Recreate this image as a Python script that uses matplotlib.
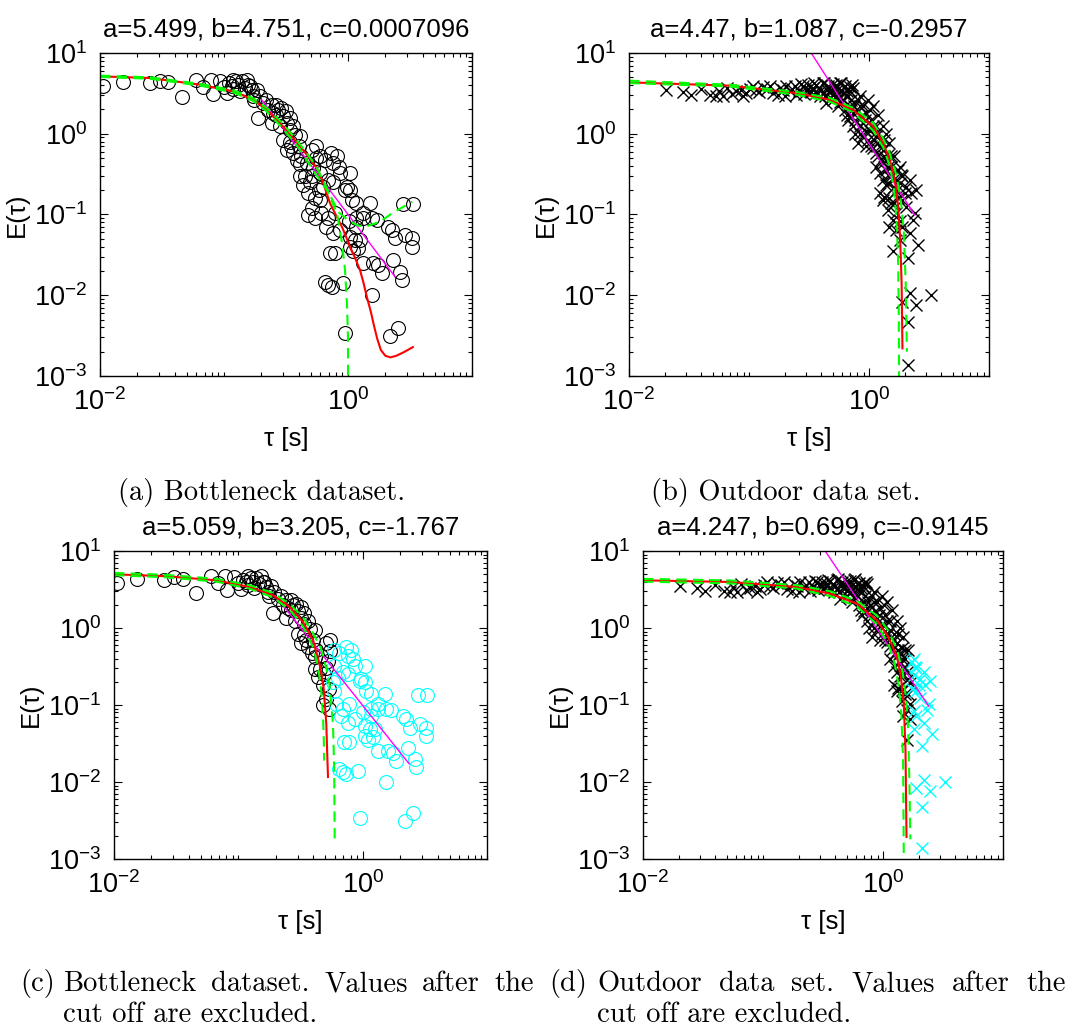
import numpy as np
import matplotlib.pyplot as plt
from matplotlib.ticker import LogLocator, NullFormatter

plt.rcParams['font.family'] = 'Liberation Sans'
plt.rcParams['mathtext.fontset'] = 'custom'
plt.rcParams['mathtext.rm'] = 'Liberation Sans'
plt.rcParams['mathtext.it'] = 'Liberation Sans:italic'

# bottleneck data (circles), same points in (a) and (c)
bn_tau = [0.0105, 0.0152, 0.0253, 0.0305, 0.0356, 0.0456, 0.060, 0.068, 0.078, 0.081,
          0.093, 0.100, 0.110, 0.119, 0.119, 0.130, 0.139, 0.147, 0.157, 0.167,
          0.172, 0.134, 0.105,
          0.189, 0.208, 0.228, 0.25, 0.274, 0.30, 0.242, 0.283, 0.32, 0.34,
          0.30, 0.32, 0.362, 0.41, 0.40, 0.42, 0.51, 0.465, 0.525, 0.45,
          0.49, 0.48, 0.54, 0.59, 0.65, 0.76, 0.69, 0.81, 0.86, 0.946,
          1.04, 0.76, 0.63, 0.58, 0.51, 0.48, 0.54, 0.61, 0.69, 0.78,
          0.67, 0.76, 0.86, 1.01, 1.04, 0.78, 0.71, 0.65, 0.74, 0.69,
          0.916, 0.946, 1.10, 1.21, 1.33, 1.55, 1.60, 1.76, 1.87, 2.32,
          2.62, 2.71, 2.18, 2.55, 1.17, 1.33, 1.55, 1.70, 1.17, 1.25,
          2.11, 2.25, 2.39, 2.88, 3.26, 3.26, 2.79, 3.32, 0.73, 0.84,
          0.975, 1.04, 1.07, 1.17, 1.5, 1.33, 0.59, 1.14, 1.04,
          0.22, 0.242, 0.264, 0.29, 0.264, 0.318, 0.34, 0.362, 0.375, 0.34,
          0.35, 0.39, 0.41, 0.41, 0.435, 0.55, 0.59, 0.55, 0.51,
          0.152, 0.162, 0.183, 0.176, 0.195, 0.126, 0.115]
bn_E = [3.86, 4.33, 4.24, 4.55, 4.33, 2.85, 4.67, 3.80, 4.67, 3.10,
        4.55, 3.80, 4.24, 4.67, 3.60, 4.00, 4.45, 3.70, 4.00, 3.45,
        2.90, 3.35, 3.19,
        1.56, 2.40, 1.99, 1.80, 1.99, 1.64, 1.36, 1.23, 1.36, 1.12,
        0.84, 0.63, 0.575, 0.93, 0.70, 0.525, 0.63, 0.43, 0.375, 0.296,
        0.256, 0.184, 0.159, 0.325, 0.476, 0.43, 0.27, 0.525, 0.325, 0.202,
        0.325, 0.256, 0.222, 0.20, 0.12, 0.099, 0.090, 0.104, 0.090, 0.104,
        0.071, 0.059, 0.065, 0.082, 0.053, 0.033, 0.033, 0.0148, 0.0128, 0.0134,
        0.014, 0.0034, 0.035, 0.038, 0.025, 0.0101, 0.025, 0.024, 0.0187, 0.0274,
        0.0196, 0.0155, 0.0031, 0.0039, 0.090, 0.090, 0.090, 0.086, 0.071, 0.0485,
        0.071, 0.065, 0.051, 0.056, 0.051, 0.040, 0.136, 0.136, 0.575, 0.39,
        0.22, 0.20, 0.152, 0.14, 0.14, 0.104, 0.15, 0.0485, 0.040,
        2.64, 2.28, 2.28, 2.08, 1.72, 1.9, 1.56, 1.23, 0.97, 0.80,
        0.70, 0.476, 0.42, 0.296, 0.23, 0.70, 0.525, 0.50, 0.30,
        4.67, 3.9, 3.5, 2.6, 2.9, 4.45, 3.95]
bn_cut = 0.56

# outdoor data (crosses), same points in (b) and (d)
od_tau = [0.0202, 0.040, 0.047, 0.053, 0.061, 0.078, 0.089, 0.101, 0.115, 0.131,
          0.174, 0.192, 0.218, 0.24, 0.248, 0.282, 0.30, 0.341, 0.364, 0.40,
          0.427, 0.455, 0.485, 0.518, 0.552, 0.588, 0.627, 0.607, 0.667, 0.71,
          0.69, 0.754, 0.81, 0.863, 0.92, 1.01, 0.95, 1.08, 1.15, 1.23,
          0.84, 0.74, 0.667, 0.81, 0.95, 1.08, 1.31, 1.44, 1.53, 1.75,
          1.86, 1.23, 1.31, 1.44, 1.57, 1.69, 1.98, 2.25, 2.48, 1.44,
          1.57, 1.47, 1.69, 1.9, 2.33, 2.2, 1.57, 1.8, 2.56, 2.1,
          1.9, 2.2, 2.48, 3.3, 2.1, 2.1,
          0.44, 0.50, 0.55, 0.627, 0.65, 0.57, 0.74, 0.89, 1.01, 1.11,
          1.19, 1.31, 1.39, 1.47, 1.63, 1.8, 1.9, 2.05, 1.53, 1.69,
          2.4, 1.8, 1.31, 0.41, 0.535, 0.69, 0.39, 0.50, 0.81, 0.89,
          0.95, 1.04, 1.15, 0.77, 1.23, 1.34, 1.39, 1.15, 1.53,
          0.364, 0.47, 0.57, 0.65, 0.74, 0.84, 0.98, 1.08, 1.19, 1.31,
          1.39, 1.47, 1.63, 1.8, 1.9, 2.05, 2.2, 0.69, 0.77, 0.84,
          0.89, 0.98, 1.04, 1.15, 1.27, 1.34, 1.44, 1.53, 1.39, 1.23,
          1.34, 1.47, 1.63, 1.75, 0.607, 0.535, 0.41, 0.32, 0.84,
          0.028, 0.033, 0.056, 0.066, 0.072, 0.085, 0.095, 0.108, 0.122, 0.14,
          0.15, 0.16, 0.18, 0.20, 0.205, 0.23, 0.26, 0.27, 0.29, 0.31,
          0.33, 0.35, 0.38, 0.42, 0.45, 0.50, 0.53, 0.58, 0.62, 0.70, 0.72]
od_E = [3.51, 3.6, 3.04, 2.9, 2.9, 3.35, 2.9, 3.6, 3.5, 3.8,
        3.04, 3.5, 3.35, 3.9, 3.04, 3.9, 3.5, 3.7, 3.19, 3.5,
        2.9, 3.9, 3.35, 3.7, 3.04, 3.5, 3.85, 2.64, 2.9, 2.64,
        2.18, 2.18, 1.89, 1.64, 1.49, 1.98, 1.07, 1.23, 0.93, 0.84,
        1.0, 1.23, 1.49, 0.766, 0.70, 0.66, 0.63, 0.55, 0.39, 0.358,
        0.31, 0.325, 0.27, 0.245, 0.27, 0.193, 0.184, 0.184, 0.202, 0.114,
        0.086, 0.071, 0.065, 0.071, 0.086, 0.059, 0.035, 0.049, 0.042, 0.029,
        0.0083, 0.0106, 0.0076, 0.0100, 0.0047, 0.00137,
        2.4, 2.64, 2.18, 1.98, 1.72, 2.5, 1.8, 1.36, 1.07, 0.84,
        0.525, 0.43, 0.36, 0.30, 0.22, 0.245, 0.152, 0.125, 0.14, 0.104,
        0.104, 0.083, 0.152, 4.25, 4.05, 3.8, 2.9, 3.04, 2.64, 2.18,
        1.8, 1.49, 1.23, 1.0, 0.70, 0.84, 0.476, 0.39, 0.525,
        4.05, 3.5, 4.25, 3.35, 3.7, 2.9, 2.64, 2.18, 1.72, 1.23,
        1.0, 0.766, 0.525, 0.39, 0.30, 0.22, 0.27, 1.64, 1.49, 1.23,
        0.93, 0.84, 0.70, 0.58, 0.476, 0.525, 0.39, 0.30, 0.235, 0.184,
        0.166, 0.16, 0.14, 0.16, 3.19, 2.9, 3.19, 3.35, 2.18,
        3.3, 3.0, 3.4, 3.7, 3.1, 3.5, 3.2, 3.9, 3.3, 3.6,
        3.9, 3.2, 3.7, 2.95, 3.9, 3.6, 3.4, 4.1, 3.1, 4.0,
        3.3, 4.2, 3.7, 4.3, 3.5, 4.1, 3.4, 4.3, 3.2, 3.4, 4.0]
od_cut = 1.72

# fitted curves
a_red_t = [0.0100, 0.0253, 0.064, 0.119, 0.172, 0.22, 0.30, 0.41, 0.50, 0.573,
           0.64, 0.716, 0.80, 0.895, 0.97, 1.04, 1.14, 1.25, 1.33, 1.42,
           1.53, 1.62, 1.72, 1.84, 2.0, 2.2, 2.45, 2.78, 3.34]
a_red_E = [5.14, 4.9, 4.05, 3.35, 2.64, 1.99, 1.23, 0.70, 0.48, 0.355,
           0.23, 0.138, 0.098, 0.070, 0.052, 0.039, 0.029, 0.0205, 0.0145, 0.0095,
           0.0062, 0.0042, 0.0029, 0.0021, 0.00178, 0.00170, 0.00178, 0.00195, 0.00228]
a_g1_t = [0.0100, 0.0253, 0.064, 0.119, 0.172, 0.22, 0.30, 0.41, 0.522, 0.678,
          0.815, 0.895, 0.946, 0.98, 1.0, 1.0]
a_g1_E = [5.05, 4.8, 3.95, 3.25, 2.55, 1.9, 1.15, 0.64, 0.355, 0.20,
          0.104, 0.044, 0.0205, 0.008, 0.003, 0.001]
a_g2_t = [0.0100, 0.0253, 0.064, 0.119, 0.172, 0.22, 0.30, 0.45, 0.55, 0.65,
          0.75, 0.85, 1.0, 1.2, 1.4, 1.8, 2.3, 3.3]
a_g2_E = [5.25, 5.0, 4.15, 3.45, 2.75, 2.1, 1.33, 0.62, 0.40, 0.24,
          0.15, 0.105, 0.085, 0.073, 0.071, 0.081, 0.105, 0.144]
a_mag_t = [0.201, 2.39]
a_mag_E = [2.64, 0.017]

b_red_t = [0.0100, 0.069, 0.248, 0.47, 0.735, 1.08, 1.31, 1.49, 1.64, 1.75, 1.82, 1.87, 1.90]
b_red_E = [4.33, 3.94, 3.19, 2.64, 1.98, 1.23, 0.766, 0.476, 0.27, 0.126, 0.0485, 0.0141, 0.0022]
b_g1_t = [0.0100, 0.069, 0.248, 0.47, 0.735, 1.08, 1.31, 1.49, 1.62, 1.70, 1.75, 1.77, 1.78]
b_g1_E = [4.24, 3.85, 3.05, 2.5, 1.85, 1.1, 0.68, 0.40, 0.20, 0.08, 0.025, 0.006, 0.001]
b_g2_t = [0.0100, 0.069, 0.248, 0.47, 0.735, 1.08, 1.31, 1.49, 1.70, 1.85, 1.95, 2.02, 2.07]
b_g2_E = [4.55, 4.05, 3.3, 2.78, 2.1, 1.38, 0.88, 0.57, 0.30, 0.14, 0.06, 0.015, 0.002]
b_mag_t = [0.33, 2.40]
b_mag_E = [10.0, 0.099]

c_red_t = [0.0100, 0.0264, 0.0665, 0.123, 0.19, 0.259, 0.331, 0.40, 0.45, 0.485, 0.51, 0.526]
c_red_E = [4.98, 4.7, 4.16, 3.41, 2.66, 1.88, 1.2, 0.69, 0.34, 0.17, 0.057, 0.0116]
c_g1_t = [0.0100, 0.0264, 0.0665, 0.123, 0.19, 0.259, 0.331, 0.40, 0.44, 0.465, 0.48, 0.487, 0.49]
c_g1_E = [4.85, 4.55, 4.0, 3.25, 2.5, 1.72, 1.05, 0.56, 0.30, 0.15, 0.07, 0.035, 0.019]
c_g2_t = [0.0100, 0.0264, 0.0665, 0.123, 0.19, 0.259, 0.331, 0.40, 0.46, 0.51, 0.54, 0.577, 0.59, 0.596]
c_g2_E = [5.2, 4.9, 4.35, 3.6, 2.85, 2.05, 1.38, 0.85, 0.55, 0.30, 0.19, 0.057, 0.015, 0.00166]
c_mag_t = [0.202, 2.36]
c_mag_E = [2.53, 0.0173]

d_red_t = [0.0100, 0.053, 0.191, 0.363, 0.607, 0.89, 1.11, 1.31, 1.41, 1.49, 1.54, 1.57]
d_red_E = [4.16, 3.96, 3.41, 2.79, 2.07, 1.26, 0.76, 0.42, 0.23, 0.104, 0.0258, 0.00193]
d_g1_t = [0.0100, 0.053, 0.191, 0.363, 0.607, 0.89, 1.11, 1.25, 1.35, 1.42, 1.47, 1.49]
d_g1_E = [4.0, 3.8, 3.25, 2.6, 1.9, 1.12, 0.62, 0.35, 0.18, 0.08, 0.02, 0.00106]
d_g2_t = [0.0100, 0.053, 0.191, 0.363, 0.607, 0.89, 1.11, 1.31, 1.45, 1.55, 1.62, 1.66, 1.69]
d_g2_E = [4.35, 4.15, 3.6, 3.0, 2.25, 1.45, 0.92, 0.52, 0.28, 0.13, 0.05, 0.01, 0.0018]
d_mag_t = [0.33, 2.41]
d_mag_E = [10.0, 0.096]

titles = ['a=5.499, b=4.751, c=0.0007096', 'a=4.47, b=1.087, c=-0.2957',
          'a=5.059, b=3.205, c=-1.767', 'a=4.247, b=0.699, c=-0.9145']

W, H = 1070, 1035
fig = plt.figure(figsize=(W / 100, H / 100), dpi=100)

def box(l, t, r, b):
    return [l / W, 1 - b / H, (r - l) / W, (b - t) / H]

axes = [fig.add_axes(box(100, 53, 472, 376)),
        fig.add_axes(box(629, 53, 989, 376)),
        fig.add_axes(box(114, 551, 487, 859)),
        fig.add_axes(box(643, 551, 1003, 859))]


def draw(ax, tau, E, cut, mk, ms, mew, red, g1, g2, mag, title):
    tau = np.array(tau)
    E = np.array(E)
    if cut is None:
        keep = np.ones(len(tau), bool)
    else:
        keep = tau < cut
    ax.plot(tau[keep], E[keep], ls='none', marker=mk, ms=ms, mfc='none', mec='k', mew=mew)
    ax.plot(tau[~keep], E[~keep], ls='none', marker=mk, ms=ms, mfc='none', mec='#00ffff', mew=mew)
    ax.plot(mag[0], mag[1], color='#ff00ff', lw=1.0)
    ax.plot(red[0], red[1], color='#ff0000', lw=1.5)
    ax.plot(g1[0], g1[1], color='#00ff00', lw=1.5, ls=(0, (5, 3)))
    ax.plot(g2[0], g2[1], color='#00ff00', lw=1.5, ls=(0, (5, 3)))
    ax.set_xscale('log')
    ax.set_yscale('log')
    ax.set_xlim(1e-2, 1e1)
    ax.set_ylim(1e-3, 1e1)
    ax.set_xticks([1e-2, 1e0])
    ax.set_yticks([1e-3, 1e-2, 1e-1, 1e0, 1e1])
    ax.xaxis.set_minor_locator(LogLocator(base=10, subs=np.arange(1, 10), numticks=20))
    ax.yaxis.set_minor_locator(LogLocator(base=10, subs=np.arange(2, 10), numticks=20))
    ax.xaxis.set_minor_formatter(NullFormatter())
    ax.yaxis.set_minor_formatter(NullFormatter())
    ax.tick_params(which='both', direction='in', top=True, right=True, width=0.8, labelsize=19.5)
    ax.tick_params(which='major', length=6, pad=9)
    ax.tick_params(which='minor', length=3)
    for s in ax.spines.values():
        s.set_linewidth(1.0)
    ax.set_title(title, fontsize=18.5, pad=12)
    ax.set_xlabel('τ [s]', fontsize=18.5, labelpad=8)
    ax.set_ylabel('E(τ)', fontsize=18.5, labelpad=4)


draw(axes[0], bn_tau, bn_E, None, 'o', 10, 0.8, (a_red_t, a_red_E), (a_g1_t, a_g1_E),
     (a_g2_t, a_g2_E), (a_mag_t, a_mag_E), titles[0])
draw(axes[1], od_tau, od_E, None, 'x', 8.5, 1.0, (b_red_t, b_red_E), (b_g1_t, b_g1_E),
     (b_g2_t, b_g2_E), (b_mag_t, b_mag_E), titles[1])
draw(axes[2], bn_tau, bn_E, bn_cut, 'o', 10, 0.8, (c_red_t, c_red_E), (c_g1_t, c_g1_E),
     (c_g2_t, c_g2_E), (c_mag_t, c_mag_E), titles[2])
draw(axes[3], od_tau, od_E, od_cut, 'x', 8.5, 1.0, (d_red_t, d_red_E), (d_g1_t, d_g1_E),
     (d_g2_t, d_g2_E), (d_mag_t, d_mag_E), titles[3])

cap = dict(family='cmr10', fontsize=20.5, va='center')
fig.text(262 / W, 1 - 492 / H, '(a) Bottleneck dataset.', ha='center', **cap)
fig.text(786 / W, 1 - 492 / H, '(b) Outdoor data set.', ha='center', **cap)


def justified(words, x0, x1, y):
    # spread the words of a full caption line between x0 and x1 (pixels)
    texts = [fig.text(0, 0, w, ha='left', **cap) for w in words]
    r = fig.canvas.get_renderer()
    widths = [t.get_window_extent(r).width for t in texts]
    gap = (x1 - x0 - sum(widths)) / (len(words) - 1)
    x = x0
    for t, w in zip(texts, widths):
        t.set_position((x / W, 1 - y / H))
        x += w + gap


fig.text(20 / W, 1 - 984 / H, '(c)', ha='left', **cap)
justified(['Bottleneck', 'dataset.', 'Values', 'after', 'the'], 63, 534, 984)
fig.text(63 / W, 1 - 1015 / H, 'cut off are excluded.', ha='left', **cap)
fig.text(549 / W, 1 - 984 / H, '(d)', ha='left', **cap)
justified(['Outdoor', 'data', 'set.', 'Values', 'after', 'the'], 597, 1066, 984)
fig.text(597 / W, 1 - 1015 / H, 'cut off are excluded.', ha='left', **cap)

fig.savefig('out.png', dpi=100)
